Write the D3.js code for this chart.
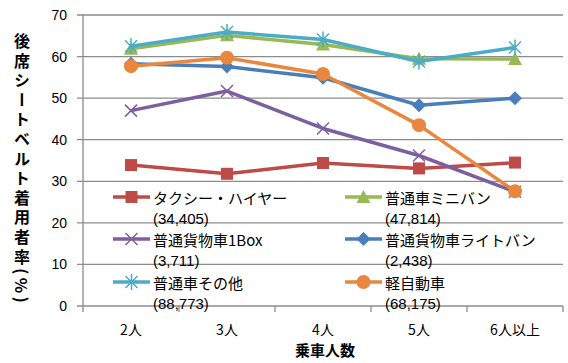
<!DOCTYPE html>
<html>
<head>
<meta charset="utf-8">
<script src="https://cdn.jsdelivr.net/npm/d3@7"></script>
<style>
  body { margin: 0; background: #fff; }
  svg text { font-family: "Noto Sans CJK JP", "Noto Sans", sans-serif; }
</style>
</head>
<body>
<div id="chart"></div>
<script>
// categories (x axis)
const categories = ["2人", "3人", "4人", "5人", "6人以上"];

// series values (%)
const taxi      = [33.9, 31.8, 34.4, 33.1, 34.5];
const minivan   = [61.9, 65.1, 62.9, 59.5, 59.4];
const box1      = [47.0, 51.7, 42.7, 36.2, 27.5];
const lightvan  = [58.3, 57.6, 54.9, 48.3, 50.0];
const otherCar  = [62.5, 65.9, 64.1, 58.8, 62.2];
const keiCar    = [57.7, 59.7, 55.8, 43.5, 27.6];

const seriesNames  = ["タクシー・ハイヤー", "普通車ミニバン", "普通貨物車1Box", "普通貨物車ライトバン", "普通車その他", "軽自動車"];
const seriesCounts = ["(34,405)", "(47,814)", "(3,711)", "(2,438)", "(88,773)", "(68,175)"];
const seriesValues = [taxi, minivan, box1, lightvan, otherCar, keiCar];

const yTicks = [0, 10, 20, 30, 40, 50, 60, 70];

// styles
const colors  = ["#BE4B48", "#98B954", "#7D5FA0", "#4A7EBB", "#4BACC6", "#E8873D"];
const markers = ["square", "triangle", "x", "diamond", "star", "circle"];

const W = 568, H = 363;
const margin = { top: 15, right: 5, bottom: 57, left: 83 };
const width = W - margin.left - margin.right;
const height = H - margin.top - margin.bottom;

const svg = d3.select("#chart").append("svg")
  .attr("width", W).attr("height", H);

const g = svg.append("g")
  .attr("transform", `translate(${margin.left},${margin.top})`);

const x = d3.scaleBand().domain(categories).range([0, width]);
const y = d3.scaleLinear().domain([0, 70]).range([height, 0]);

// gridlines
g.selectAll(".grid").data(yTicks).enter().append("line")
  .attr("x1", -6).attr("x2", width)
  .attr("y1", d => y(d)).attr("y2", d => y(d))
  .attr("stroke", "#8c8c8c").attr("stroke-width", 1.3);

// y axis line
g.append("line")
  .attr("x1", 0).attr("x2", 0).attr("y1", 0).attr("y2", height)
  .attr("stroke", "#8c8c8c").attr("stroke-width", 1.3);

// y tick labels
g.selectAll(".ylab").data(yTicks).enter().append("text")
  .attr("x", -16).attr("y", d => y(d))
  .attr("text-anchor", "end").attr("dominant-baseline", "central")
  .style("font-size", "14px").attr("fill", "#000")
  .style("font-family", "'Liberation Sans', 'DejaVu Sans', sans-serif")
  .text(d => d);

// x tick marks at category boundaries
const bounds = categories.map(c => x(c)).concat([width]);
g.selectAll(".xtick").data(bounds).enter().append("line")
  .attr("x1", d => d).attr("x2", d => d)
  .attr("y1", height).attr("y2", height + 6)
  .attr("stroke", "#8c8c8c").attr("stroke-width", 1.3);

// x labels
g.selectAll(".xlab").data(categories).enter().append("text")
  .attr("x", d => x(d) + x.bandwidth() / 2)
  .attr("y", height + 29)
  .attr("text-anchor", "middle")
  .style("font-size", "14px")
  .text(d => d);

// axis titles
svg.append("text")
  .attr("x", margin.left + width / 2 + 2).attr("y", 356)
  .attr("text-anchor", "middle")
  .style("font-size", "15px").style("font-weight", "bold")
  .text("乗車人数");

svg.append("text")
  .attr("transform", "translate(22,33)")
  .style("writing-mode", "vertical-rl")
  .style("font-size", "16px").style("font-weight", "bold")
  .style("letter-spacing", "3.6px")
  .text("後席シートベルト着用者率(%)");

// marker drawing
function drawMarker(sel, type, color) {
  if (type === "square") {
    sel.append("rect").attr("x", -6).attr("y", -6).attr("width", 12).attr("height", 12).attr("fill", color);
  } else if (type === "triangle") {
    sel.append("path").attr("d", "M0,-7L7,6L-7,6Z").attr("fill", color);
  } else if (type === "diamond") {
    sel.append("path").attr("d", "M0,-7L7,0L0,7L-7,0Z").attr("fill", color);
  } else if (type === "circle") {
    sel.append("circle").attr("r", 7).attr("fill", color);
  } else if (type === "x") {
    sel.append("path").attr("d", "M-6,-6L6,6M-6,6L6,-6").attr("stroke", color).attr("stroke-width", 1.5);
  } else if (type === "star") {
    sel.append("path").attr("d", "M-6,-6L6,6M-6,6L6,-6M0,-8L0,8").attr("stroke", color).attr("stroke-width", 1.5);
  }
}

const line = d3.line()
  .x((d, i) => x(categories[i]) + x.bandwidth() / 2)
  .y(d => y(d));

seriesValues.forEach((vals, s) => {
  g.append("path")
    .datum(vals)
    .attr("fill", "none")
    .attr("stroke", colors[s])
    .attr("stroke-width", 3.5)
    .attr("stroke-linejoin", "round")
    .attr("d", line);
  vals.forEach((v, i) => {
    const m = g.append("g")
      .attr("transform", `translate(${x(categories[i]) + x.bandwidth() / 2},${y(v)})`);
    drawMarker(m, markers[s], colors[s]);
  });
});

// legend: 2 columns, 3 rows
const legendCols = [113, 345];
const legendRows = [197, 239, 282];
seriesNames.forEach((name, s) => {
  const lx = legendCols[s % 2], ly = legendRows[Math.floor(s / 2)];
  const lg = svg.append("g").attr("transform", `translate(${lx},${ly})`);
  lg.append("line").attr("x1", 0).attr("x2", 37).attr("y1", 0).attr("y2", 0)
    .attr("stroke", colors[s]).attr("stroke-width", 3.5);
  drawMarker(lg.append("g").attr("transform", "translate(18.5,0)"), markers[s], colors[s]);
  lg.append("text").attr("x", 40).attr("y", 0)
    .attr("dominant-baseline", "central")
    .style("font-size", "15px")
    .text(name);
  lg.append("text").attr("x", 40).attr("y", 21)
    .attr("dominant-baseline", "central")
    .style("font-size", "15px")
    .style("font-family", "'Liberation Sans', 'DejaVu Sans', sans-serif")
    .text(seriesCounts[s]);
});
</script>
</body>
</html>
